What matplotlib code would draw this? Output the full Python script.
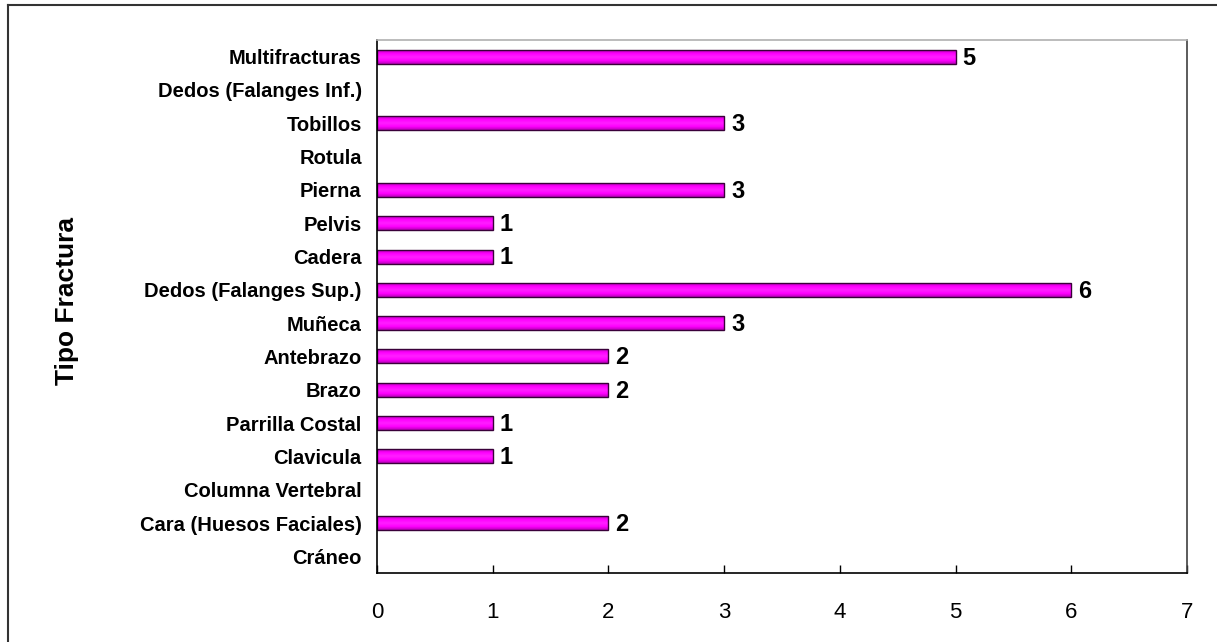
import matplotlib
matplotlib.use("Agg")
import matplotlib.pyplot as plt
from matplotlib.lines import Line2D
from matplotlib.colors import LinearSegmentedColormap
import numpy as np

# fracture types, bottom to top
categories = [
    "Cráneo", "Cara (Huesos Faciales)", "Columna Vertebral", "Clavicula",
    "Parrilla Costal", "Brazo", "Antebrazo", "Muñeca", "Dedos (Falanges Sup.)",
    "Cadera", "Pelvis", "Pierna", "Rotula", "Tobillos", "Dedos (Falanges Inf.)",
    "Multifracturas",
]
counts = [0, 2, 0, 1, 1, 2, 2, 3, 6, 1, 1, 3, 0, 3, 0, 5]
x_ticks = [0, 1, 2, 3, 4, 5, 6, 7]

plt.rcParams['font.family'] = ['Liberation Sans', 'DejaVu Sans']

fig = plt.figure(figsize=(12.17, 6.42), dpi=100)
ax = fig.add_axes([377 / 1217, 1 - 573 / 642, 810 / 1217, 533 / 642])

ypos = np.arange(len(categories))
bar_h = 0.42
# empty categories get no bar at all
shown = [i for i, v in enumerate(counts) if v > 0]
bars = ax.barh(ypos[shown], [counts[i] for i in shown], height=bar_h,
               color="none", edgecolor="#3a003a", linewidth=1.0, zorder=4)

# soft tube shading inside each bar
shade = LinearSegmentedColormap.from_list(
    "tube", ["#b800b8", "#ff00ff", "#ff20ff", "#ff00ff", "#c000c0"])
grad = np.linspace(0, 1, 64).reshape(-1, 1)
for b in bars:
    x0, y0 = b.get_x(), b.get_y()
    ax.imshow(grad, cmap=shade, aspect="auto", origin="lower", zorder=3,
              extent=[x0, x0 + b.get_width(), y0, y0 + b.get_height()])

for i in shown:
    ax.annotate(str(counts[i]), (counts[i], ypos[i]), xytext=(5, -1),
                textcoords="offset points", ha="left", va="center",
                fontsize=17, fontweight="bold")

ax.set_xlim(0, 7)
ax.set_ylim(-0.5, len(categories) - 0.5)
ax.set_xticks(x_ticks)
ax.set_xticklabels([str(t) for t in x_ticks], fontsize=16)
ax.set_yticks(ypos)
ax.set_yticklabels(categories, fontsize=14.5, fontweight="bold")
ax.tick_params(axis="x", direction="in", length=6, width=1, pad=21)
ax.tick_params(axis="y", length=0, pad=11)

ax.set_ylabel("Tipo Fractura", fontsize=19, fontweight="bold")
ax.yaxis.set_label_coords(-0.368, 0.51)

ax.spines["left"].set_color("black")
ax.spines["bottom"].set_color("black")
ax.spines["top"].set_color("#b0b0b0")
ax.spines["right"].set_color("#404040")
for s in ax.spines.values():
    s.set_linewidth(1.2)
    s.set_zorder(5)

# outer chart border (top and left edges)
fig.add_artist(Line2D([8 / 1217, 1], [1 - 5 / 642, 1 - 5 / 642],
                      transform=fig.transFigure, color="#333333", lw=1.5))
fig.add_artist(Line2D([8 / 1217, 8 / 1217], [0, 1 - 5 / 642],
                      transform=fig.transFigure, color="#333333", lw=1.5))

fig.savefig("out.png", dpi=100)
